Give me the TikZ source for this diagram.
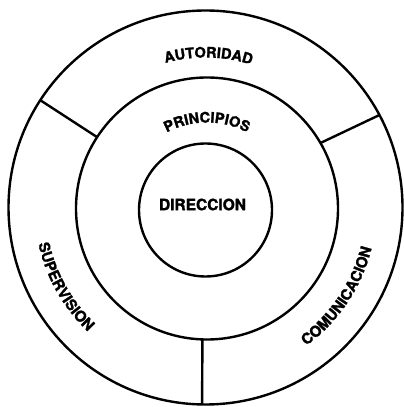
\documentclass[tikz,border=0pt]{standalone}
\usepackage{fontspec}
\usetikzlibrary{decorations.text}
\newfontfamily\herosfam[BoldFeatures={FakeBold=1.6}]{TeX Gyre Heros}
\newcommand\lblTop{\herosfam\bfseries\fontsize{14.5}{14.5}\selectfont}
\newcommand\lblLow{\herosfam\bfseries\fontsize{15}{15}\selectfont}
\newcommand\lblMid{\herosfam\bfseries\fontsize{15.5}{15.5}\selectfont}
\begin{document}
\begin{tikzpicture}[x=1pt,y=1pt,
  ring/.style={circle,draw,line width=2.4pt,inner sep=0pt,outer sep=0pt},
  divider/.style={line width=2.4pt},
  arctext/.style={decorate,decoration={text along path,text align=center,text color=black}}]
\useasboundingbox (0,0) rectangle (404,407);
\fill[white] (0,0) rectangle (404,407);
% circles
\node[ring,minimum size=394pt] (outer) at (205.5,199.5) {};
\node[ring,minimum size=262pt] (middle) at (207,198.5) {};
\node[ring,minimum size=133pt] (inner) at (205.5,197) {};
% dividers
\draw[divider] (middle.147.1) -- (outer.147.7);
\draw[divider] (middle.30.2) -- (outer.28.9);
\draw[divider] (middle.268.7) -- (outer.269.6);
% centre label
\node[inner sep=0pt,font=\lblMid] (dir) at (202.5,202.5) {DIRECCION};
% curved labels
\path[arctext,decoration={text={|\lblTop|AUTORIDAD}}]
  (outer.center) ++(133.9:150) arc[start angle=133.9,end angle=43.9,radius=150];
\path[arctext,decoration={text={|\lblTop|PRINCIPIOS}}]
  (middle.center) ++(135:86) arc[start angle=135,end angle=45,radius=86];
\path[arctext,decoration={text={|\lblLow|SUPERVISION}}]
  (outer.center) ++(164.4:171) arc[start angle=164.4,end angle=254.4,radius=171];
\path[arctext,decoration={text={|\lblLow|COMUNICACION}}]
  (outer.center) ++(-78.85:171) arc[start angle=-78.85,end angle=11.15,radius=171];
\end{tikzpicture}
\end{document}
